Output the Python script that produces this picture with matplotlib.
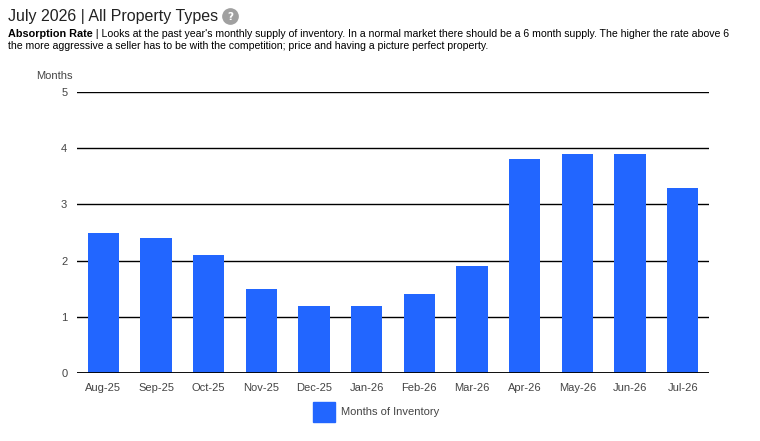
import matplotlib.pyplot as plt
from matplotlib.patches import Rectangle
from matplotlib.lines import Line2D

months = ["Aug-25", "Sep-25", "Oct-25", "Nov-25", "Dec-25", "Jan-26",
          "Feb-26", "Mar-26", "Apr-26", "May-26", "Jun-26", "Jul-26"]
inventory = [2.5, 2.4, 2.1, 1.5, 1.2, 1.2, 1.4, 1.9, 3.8, 3.9, 3.9, 3.3]
yticks = [0, 1, 2, 3, 4, 5]

bar_color = "#2266ff"
plt.rcParams["font.family"] = ["Liberation Sans", "DejaVu Sans"]

W, H = 760, 441
fig = plt.figure(figsize=(W / 100, H / 100), dpi=100)


def fit(t, width_px):
    # shrink the font until the text spans roughly width_px
    fig.canvas.draw()
    w = t.get_window_extent().width
    t.set_fontsize(t.get_fontsize() * width_px / w)


# plot area in pixels: x 77..709, y 92..373
ax = fig.add_axes([77 / W, 1 - 373 / H, (709 - 77) / W, (373 - 92) / H])
x = range(len(months))
ax.bar(x, inventory, width=0.6, color=bar_color, zorder=3)
ax.set_xlim(-0.5, len(months) - 0.5)
ax.set_ylim(0, 5)
ax.set_yticks(yticks)
ax.set_xticks(list(x))
ax.set_xticklabels(months)
ax.grid(axis="y", color="black", linewidth=1, zorder=1)
for s in ax.spines.values():
    s.set_visible(False)
ax.tick_params(length=0, labelsize=8, colors="#444444")
ax.tick_params(axis="y", pad=7)
ax.tick_params(axis="x", pad=7)
ax.axhline(0, color="black", linewidth=1.3, zorder=4)

fig.text(36 / W, 1 - 76 / H, "Months", fontsize=8, color="#444444", va="center")

# title
title = fig.text(8 / W, 1 - 16 / H, "July 2026 | All Property Types",
                 fontsize=12.5, color="#222222", va="center")
fit(title, 210)
fig.add_artist(Line2D([230 / W], [1 - 16 / H], marker="o", markersize=11,
                      color="#a0a0a0", transform=fig.transFigure))
fig.text(230 / W, 1 - 16.5 / H, "?", fontsize=7.5, color="white", weight="bold",
         ha="center", va="center", family="DejaVu Sans")

t1 = fig.text(8 / W, 1 - 34 / H, "Absorption Rate", fontsize=8, weight="bold",
              color="black", va="center")
fit(t1, 85)
fig.canvas.draw()
bb = t1.get_window_extent()
t2 = fig.text(bb.x1 / W, 1 - 34 / H,
              " | Looks at the past year's monthly supply of inventory. In a normal market there should be a 6 month supply. The higher the rate above 6",
              fontsize=8, color="black", va="center")
fit(t2, 735 - bb.x1)
t3 = fig.text(8 / W, 1 - 46 / H,
              "the more aggressive a seller has to be with the competition; price and having a picture perfect property.",
              fontsize=8, color="black", va="center")
fit(t3, 486)

# legend
fig.patches.append(Rectangle((313 / W, 1 - 422 / H), 22 / W, 20 / H,
                             transform=fig.transFigure, color=bar_color))
fig.text(341 / W, 1 - 412 / H, "Months of Inventory", fontsize=8,
         color="#444444", va="center")

fig.savefig("out.png", dpi=100)
